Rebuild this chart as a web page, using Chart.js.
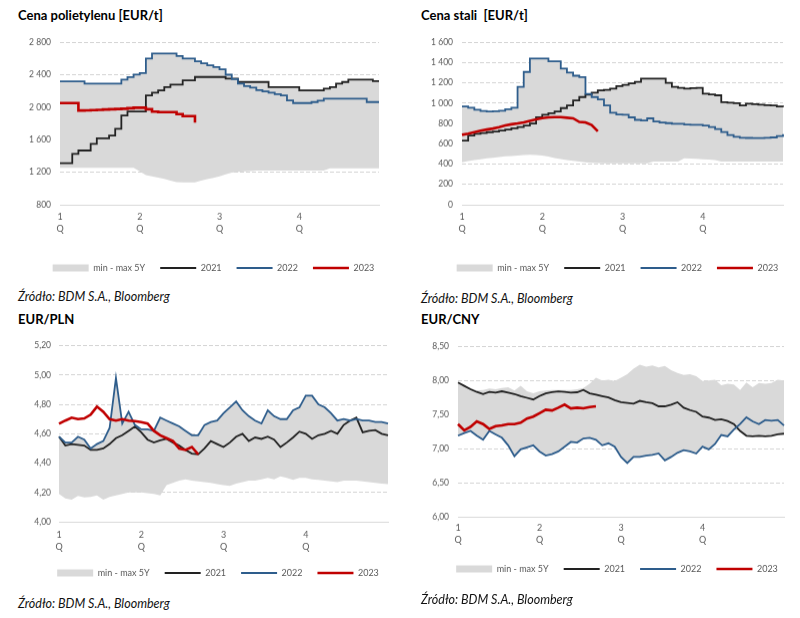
<!DOCTYPE html>
<html>
<head>
<meta charset="utf-8">
<script src="https://cdn.jsdelivr.net/npm/chart.js@4.4.0/dist/chart.umd.min.js"></script>
<style>
  body { margin:0; background:#fff; width:800px; height:618px; position:relative; overflow:hidden; font-family:Lato, sans-serif; }
  .title { position:absolute; font-weight:bold; font-size:13px; line-height:16px; color:#000; white-space:pre; }
  .src { position:absolute; font-style:italic; font-size:12.5px; line-height:15px; color:#111; white-space:pre; }
  .box { position:absolute; }
</style>
</head>
<body>
<div class="title" style="left:18px;top:7px">Cena polietylenu [EUR/t]</div>
<div class="title" style="left:421px;top:7px">Cena stali  [EUR/t]</div>
<div class="title" style="left:18px;top:311px">EUR/PLN</div>
<div class="title" style="left:421px;top:311px">EUR/CNY</div>

<div class="box" style="left:0;top:28px;width:400px;height:253.5px"><canvas id="c1"></canvas></div>
<div class="box" style="left:400px;top:28px;width:405px;height:253.5px"><canvas id="c2"></canvas></div>
<div class="box" style="left:0;top:332px;width:403px;height:254.5px"><canvas id="c3"></canvas></div>
<div class="box" style="left:400px;top:332px;width:403px;height:250.5px"><canvas id="c4"></canvas></div>

<div class="src" style="left:18px;top:289px">Źródło: BDM S.A., Bloomberg</div>
<div class="src" style="left:421px;top:290.5px">Źródło: BDM S.A., Bloomberg</div>
<div class="src" style="left:18px;top:595.5px">Źródło: BDM S.A., Bloomberg</div>
<div class="src" style="left:421px;top:592px">Źródło: BDM S.A., Bloomberg</div>

<script>
// tygodnie roku (0..52), etykiety kwartałów co 13 tygodni
const weeks = Array.from({length: 53}, (_, i) => i);
const quarterLabels = [['1','Q'], ['2','Q'], ['3','Q'], ['4','Q']];

// Cena polietylenu [EUR/t]
const peTicks = [800, 1200, 1600, 2000, 2400, 2800];
const peMin = [1255,1255,1255,1255,1255,1255,1255,1255,1255,1255,1255,1255,1255,1210,1165,1150,1135,1117,1095,1078,1075,1075,1075,1095,1115,1130,1150,1175,1195,1205,1210,1215,1220,1220,1220,1220,1220,1220,1220,1220,1220,1220,1220,1220,1248,1248,1248,1248,1248,1248,1248,1248,1248];
const peMax = [2318,2318,2318,2318,2290,2290,2290,2290,2290,2290,2340,2370,2401,2420,2600,2660,2660,2660,2660,2631,2598,2598,2565,2540,2516,2495,2467,2400,2352,2310,2310,2310,2310,2310,2248,2248,2248,2248,2248,2207,2207,2207,2207,2228,2248,2290,2310,2340,2340,2340,2340,2322,2322];
const pe2021 = [1310,1310,1426,1467,1467,1549,1618,1618,1652,1735,1899,1948,1948,1948,2146,2179,2207,2248,2278,2278,2331,2331,2372,2372,2372,2372,2372,2352,2352,2310,2310,2310,2310,2310,2248,2248,2248,2248,2248,2207,2207,2207,2207,2228,2248,2290,2310,2340,2340,2340,2340,2322,2322];
const pe2022 = [2318,2318,2318,2318,2290,2290,2290,2290,2290,2290,2340,2370,2401,2420,2600,2660,2660,2660,2660,2631,2598,2598,2565,2540,2516,2495,2467,2400,2345,2290,2260,2240,2210,2195,2180,2160,2146,2084,2051,2051,2051,2063,2080,2105,2105,2105,2105,2105,2105,2105,2063,2063,2063];
const pe2023 = [2051,2051,2051,1960,1962,1965,1968,1972,1975,1978,1981,1988,1994,1994,1975,1945,1940,1940,1940,1915,1890,1890,1809];

// Cena stali [EUR/t]
const steelTicks = [0, 200, 400, 600, 800, 1000, 1200, 1400, 1600];
const steelMin = [418,430,440,448,457,463,470,477,480,484,488,491,490,485,475,460,450,440,432,425,418,413,410,408,408,408,408,408,408,408,408,425,425,425,425,425,457,455,452,448,445,440,425,425,425,425,425,425,425,425,425,425,425];
const steelMax = [968,955,935,922,918,920,926,940,955,1160,1307,1439,1439,1439,1412,1412,1340,1300,1270,1257,1090,1103,1126,1130,1142,1168,1180,1195,1210,1241,1241,1241,1241,1200,1159,1150,1142,1148,1150,1093,1085,1077,1010,1005,1000,978,994,990,985,980,978,968,961];
const steel2021 = [632,681,698,705,714,720,731,740,753,765,780,800,862,886,900,918,951,978,1027,1060,1083,1103,1126,1130,1142,1168,1180,1195,1210,1241,1241,1241,1241,1200,1159,1150,1142,1148,1150,1093,1085,1077,1010,1005,1000,978,994,990,985,980,978,968,961];
const steel2022 = [968,955,935,922,918,920,926,940,955,1160,1307,1439,1439,1439,1412,1412,1340,1300,1270,1257,1090,1060,1037,978,905,889,885,860,835,828,850,820,810,803,797,797,790,787,787,780,765,745,715,685,668,659,657,655,655,658,662,675,694];
const steel2023 = [688,700,715,728,740,750,764,780,792,800,810,825,840,852,860,862,862,856,850,815,810,785,722];

// EUR/PLN
const plnTicks = [4.0, 4.2, 4.4, 4.6, 4.8, 5.0, 5.2];
const plnMin = [4.19,4.16,4.15,4.177,4.166,4.17,4.18,4.15,4.17,4.18,4.19,4.20,4.20,4.20,4.195,4.19,4.18,4.25,4.265,4.28,4.29,4.28,4.275,4.27,4.265,4.257,4.25,4.245,4.26,4.27,4.28,4.28,4.29,4.30,4.29,4.31,4.30,4.285,4.30,4.30,4.29,4.285,4.28,4.275,4.27,4.28,4.28,4.28,4.275,4.27,4.265,4.26,4.257];
const plnMax = [4.58,4.54,4.54,4.58,4.56,4.50,4.53,4.55,4.64,4.98,4.67,4.75,4.66,4.63,4.63,4.62,4.71,4.69,4.67,4.65,4.62,4.59,4.59,4.66,4.68,4.69,4.74,4.78,4.82,4.76,4.72,4.69,4.67,4.76,4.72,4.70,4.70,4.76,4.78,4.86,4.86,4.80,4.78,4.74,4.69,4.70,4.69,4.71,4.69,4.69,4.68,4.68,4.67];
const pln2021 = [4.58,4.52,4.53,4.525,4.52,4.49,4.49,4.50,4.53,4.57,4.59,4.62,4.65,4.61,4.56,4.54,4.555,4.565,4.54,4.52,4.49,4.465,4.46,4.50,4.55,4.53,4.51,4.54,4.58,4.60,4.55,4.575,4.565,4.58,4.56,4.51,4.54,4.575,4.615,4.60,4.565,4.59,4.60,4.62,4.60,4.66,4.69,4.71,4.61,4.62,4.625,4.60,4.59];
const pln2022 = [4.58,4.54,4.54,4.58,4.56,4.50,4.53,4.55,4.64,4.98,4.67,4.75,4.66,4.63,4.63,4.62,4.71,4.69,4.67,4.65,4.62,4.59,4.59,4.66,4.68,4.69,4.74,4.78,4.82,4.76,4.72,4.69,4.67,4.76,4.72,4.70,4.70,4.76,4.78,4.86,4.86,4.80,4.78,4.74,4.69,4.70,4.69,4.70,4.69,4.69,4.68,4.68,4.67];
const pln2023 = [4.668,4.69,4.71,4.70,4.705,4.73,4.785,4.75,4.70,4.69,4.70,4.69,4.686,4.68,4.67,4.62,4.59,4.57,4.55,4.50,4.49,4.51,4.46];

// EUR/CNY
const cnyTicks = [6.0, 6.5, 7.0, 7.5, 8.0, 8.5];
const cnyMin = [7.19,7.23,7.26,7.19,7.13,7.26,7.21,7.16,7.05,6.89,6.99,7.02,7.05,6.96,6.90,6.92,6.96,7.03,7.10,7.09,7.15,7.16,7.13,7.05,7.08,7.03,6.88,6.79,6.88,6.88,6.90,6.91,6.93,6.83,6.88,6.94,6.98,6.96,6.93,7.03,6.99,7.07,7.20,7.18,7.28,7.26,7.19,7.18,7.19,7.18,7.19,7.21,7.22];
const cnyMax = [7.97,7.92,7.89,7.85,7.86,7.88,7.87,7.89,7.90,7.85,7.92,7.84,7.81,7.84,7.85,7.86,7.86,7.86,7.86,7.87,7.89,7.95,8.04,8.00,8.01,7.99,8.04,8.09,8.17,8.23,8.20,8.22,8.19,8.21,8.15,8.11,8.08,8.09,8.06,7.99,8.00,8.01,7.93,7.95,7.94,7.86,7.97,7.90,7.96,7.95,7.96,8.01,8.00];
const cny2021 = [7.97,7.92,7.87,7.83,7.80,7.83,7.82,7.84,7.82,7.80,7.77,7.745,7.72,7.77,7.81,7.826,7.84,7.83,7.82,7.826,7.86,7.81,7.79,7.77,7.75,7.71,7.68,7.67,7.66,7.70,7.68,7.665,7.62,7.62,7.645,7.68,7.60,7.565,7.54,7.47,7.455,7.42,7.43,7.405,7.36,7.26,7.19,7.18,7.19,7.18,7.19,7.21,7.22];
const cny2022 = [7.19,7.23,7.26,7.19,7.13,7.26,7.21,7.16,7.05,6.89,6.99,7.02,7.05,6.96,6.90,6.92,6.96,7.03,7.10,7.09,7.15,7.16,7.13,7.05,7.08,7.03,6.88,6.79,6.88,6.88,6.90,6.91,6.93,6.83,6.88,6.94,6.98,6.96,6.93,7.03,6.99,7.07,7.20,7.18,7.28,7.36,7.46,7.40,7.36,7.42,7.41,7.42,7.34];
const cny2023 = [7.36,7.27,7.32,7.40,7.36,7.29,7.33,7.34,7.36,7.36,7.38,7.44,7.47,7.52,7.57,7.56,7.60,7.645,7.59,7.60,7.59,7.61,7.62];

Chart.defaults.font.family = 'Lato';
const TXT = '#595959';
const thousands = v => String(v).replace(/\B(?=(\d{3})+(?!\d))/g, ' ');
const comma2 = v => v.toFixed(2).replace('.', ',');

function makeChart(id, c) {
  new Chart(document.getElementById(id), {
    type: 'line',
    data: {
      labels: weeks,
      datasets: [
        { label:'min', data:c.min, borderColor:'transparent', borderWidth:0, pointRadius:0, fill:false, order:10, yAxisID:'y' },
        { label:'min - max 5Y', data:c.max, borderColor:'transparent', borderWidth:0, pointRadius:0, fill:'-1', backgroundColor:'#d9d9d9', pointStyle:'rect', order:9, stepped:c.stepped, yAxisID:'y' },
        { label:'2021', data:c.y21, borderColor:'#222222', backgroundColor:'#222222', borderWidth:1.8, pointRadius:0, pointStyle:'line', order:3, stepped:c.stepped, yAxisID:'y' },
        { label:'2022', data:c.y22, borderColor:'#2e5d8c', backgroundColor:'#2e5d8c', borderWidth:1.8, pointRadius:0, pointStyle:'line', order:2, stepped:c.stepped, yAxisID:'y' },
        { label:'2023', data:c.y23, borderColor:'#c00000', backgroundColor:'#c00000', borderWidth:2.6, pointRadius:0, pointStyle:'line', order:1, stepped:c.stepped23, yAxisID:'y' }
      ]
    },
    options: {
      responsive:true, maintainAspectRatio:false, animation:false,
      layout: { padding: { left:c.padL, right:c.padR, top:c.padT, bottom:0 } },
      plugins: {
        tooltip: { enabled:false },
        legend: {
          position:'bottom',
          labels: {
            usePointStyle:true, pointStyleWidth:36, boxHeight:7, padding:15, color:TXT,
            font:{ size:9 },
            filter: it => it.datasetIndex !== 0,
            sort: (a, b) => a.datasetIndex - b.datasetIndex
          }
        }
      },
      scales: {
        x: {
          grid:{ display:false, drawTicks:false },
          border:{ display:true, color:'#d9d9d9', width:1 },
          ticks:{ autoSkip:false, maxRotation:0, padding:c.xPad, color:TXT, font:{ size:9, lineHeight:'12px' },
            callback:(v, i) => (i % 13 === 0 && i < 52) ? quarterLabels[i / 13] : '' },
          afterFit: s => { s.height = c.xH; }
        },
        y: {
          min:c.ticks[0], max:c.ticks[c.ticks.length - 1],
          grid:{ color:'#d4d4d4', drawTicks:false },
          border:{ display:false, dash:[4, 2] },
          ticks:{ padding:c.yPad, color:TXT, font:{ size:8.5 }, callback:c.fmt },
          afterBuildTicks: s => { s.ticks = c.ticks.map(v => ({ value:v })); },
          afterFit: s => { s.width = c.yW; }
        },
        pad: {
          position:'right', display:true,
          grid:{ display:false }, border:{ display:false }, ticks:{ display:false },
          afterFit: s => { s.width = c.rW; }
        }
      }
    }
  });
}

makeChart('c1', { min:peMin, max:peMax, y21:pe2021, y22:pe2022, y23:pe2023, ticks:peTicks, fmt:thousands,
  stepped:true, stepped23:true, padL:28, padR:1, padT:14, yW:32, rW:20, xH:43.5, xPad:6, yPad:9 });
makeChart('c2', { min:steelMin, max:steelMax, y21:steel2021, y22:steel2022, y23:steel2023, ticks:steelTicks, fmt:thousands,
  stepped:true, stepped23:false, padL:30, padR:0, padT:14, yW:32, rW:22, xH:43.5, xPad:6, yPad:9 });
makeChart('c3', { min:plnMin, max:plnMax, y21:pln2021, y22:pln2022, y23:pln2023, ticks:plnTicks, fmt:comma2,
  stepped:false, stepped23:false, padL:33, padR:0, padT:13.7, yW:26, rW:15, xH:31.5, xPad:7, yPad:8 });
makeChart('c4', { min:cnyMin, max:cnyMax, y21:cny2021, y22:cny2022, y23:cny2023, ticks:cnyTicks, fmt:comma2,
  stepped:false, stepped23:false, padL:31, padR:0, padT:13.7, yW:27, rW:19, xH:32.2, xPad:5, yPad:9 });
</script>
</body>
</html>
